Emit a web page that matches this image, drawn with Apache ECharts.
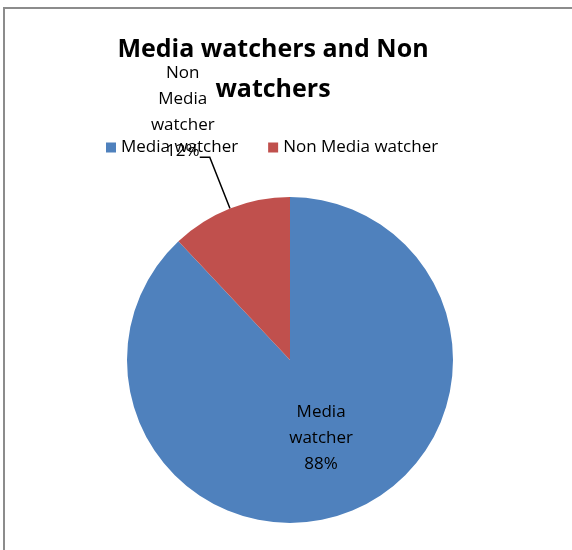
<!DOCTYPE html>
<html>
<head>
<meta charset="utf-8">
<script src="https://cdn.jsdelivr.net/npm/echarts@6/dist/echarts.min.js"></script>
<style>
  html, body { margin: 0; padding: 0; background: #fff; }
  #frame { position: absolute; left: 3px; top: 7px; width: 620px; height: 600px; border: 2px solid #8c8c8c; box-sizing: border-box; }
  #chart { position: absolute; left: 0; top: 0; width: 572px; height: 550px; }
</style>
</head>
<body>
<div id="frame"></div>
<div id="chart"></div>
<script>
// data
const categories = ['Media watcher', 'Non Media watcher'];
const shares = [88, 12];
const colors = ['#4F81BD', '#C0504D'];

const chart = echarts.init(document.getElementById('chart'));

const pieData = categories.map((name, i) => ({ name, value: shares[i], itemStyle: { color: colors[i] } }));
// inner label for the big slice, leader-line label for the small one
pieData[0].label = {
  position: 'inside',
  formatter: 'Media\nwatcher\n{d}%',
  lineHeight: 26
};
pieData[1].label = {
  position: 'outside',
  formatter: '{a|Non}\n{a|Media}\n{a|watcher}\n{a|{d}%}',
  padding: [0, 0, 90, 0],
  distanceToLabelLine: -18,
  rich: { a: { width: 70, align: 'center', lineHeight: 26, fontSize: 17, fontFamily: 'Open Sans', color: '#000' } }
};
pieData[1].labelLine = { show: true, length: 55, length2: 10, lineStyle: { color: '#000', width: 1.5 } };

chart.setOption({
  animation: false,
  title: {
    text: 'Media watchers and Non\nwatchers',
    left: 268,
    top: 25,
    textAlign: 'center',
    textStyle: { fontFamily: 'Open Sans', fontWeight: 'bold', fontSize: 25, lineHeight: 40, color: '#000' }
  },
  legend: {
    left: 101,
    top: 134,
    itemWidth: 10,
    itemHeight: 10,
    itemGap: 30,
    icon: 'rect',
    textStyle: { fontFamily: 'Open Sans', fontSize: 17, color: '#000' },
    data: categories
  },
  series: [{
    type: 'pie',
    center: [290, 360],
    radius: 163,
    startAngle: 90,
    clockwise: true,
    label: { fontFamily: 'Open Sans', fontSize: 17, color: '#000' },
    labelLine: { show: false },
    emphasis: { disabled: true },
    data: pieData
  }]
});
</script>
</body>
</html>
